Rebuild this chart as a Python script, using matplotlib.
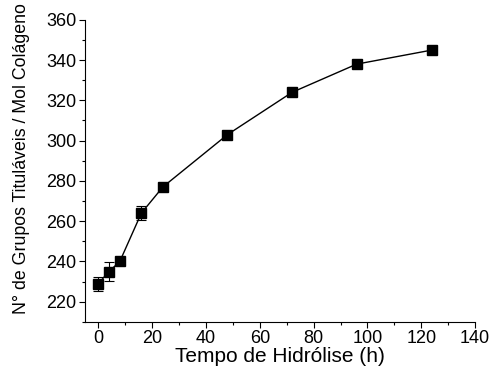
import numpy as np
import matplotlib
matplotlib.use("Agg")
import matplotlib.pyplot as plt
from matplotlib.ticker import MultipleLocator

# dados
tempo = [0, 4, 8, 16, 24, 48, 72, 96, 124]
grupos = [229, 235, 240, 264, 277, 303, 324, 338, 345]
erro = [3.5, 4.5, 1.5, 3.5, 1.5, 1.0, 1.0, 1.0, 1.5]

plt.rcParams['font.family'] = ['Liberation Sans', 'DejaVu Sans']

fig = plt.figure(figsize=(4.96, 3.67), dpi=100)
ax = fig.add_axes([0.171, 0.123, 0.787, 0.823])

ax.errorbar(tempo, grupos, yerr=erro, fmt='s-', color='black', ms=6.5,
            lw=1.0, capsize=3.5, elinewidth=0.8, capthick=0.8)

ax.set_xlim(-5, 140)
ax.set_ylim(210, 360)
ax.xaxis.set_major_locator(MultipleLocator(20))
ax.xaxis.set_minor_locator(MultipleLocator(10))
ax.yaxis.set_major_locator(MultipleLocator(20))
ax.yaxis.set_minor_locator(MultipleLocator(10))
ax.tick_params(which='major', direction='out', length=4, labelsize=13, width=0.8, pad=2)
ax.tick_params(which='minor', direction='out', length=2.5, width=0.8)

ax.spines['top'].set_visible(False)
ax.spines['right'].set_visible(False)

ax.set_xlabel("Tempo de Hidrólise (h)", fontsize=15, labelpad=0)
ax.set_ylabel("N° de Grupos Tituláveis / Mol Colágeno", fontsize=12.8)
ax.yaxis.set_label_coords(-0.14, 0.54)

plt.savefig("out.png", dpi=100)
